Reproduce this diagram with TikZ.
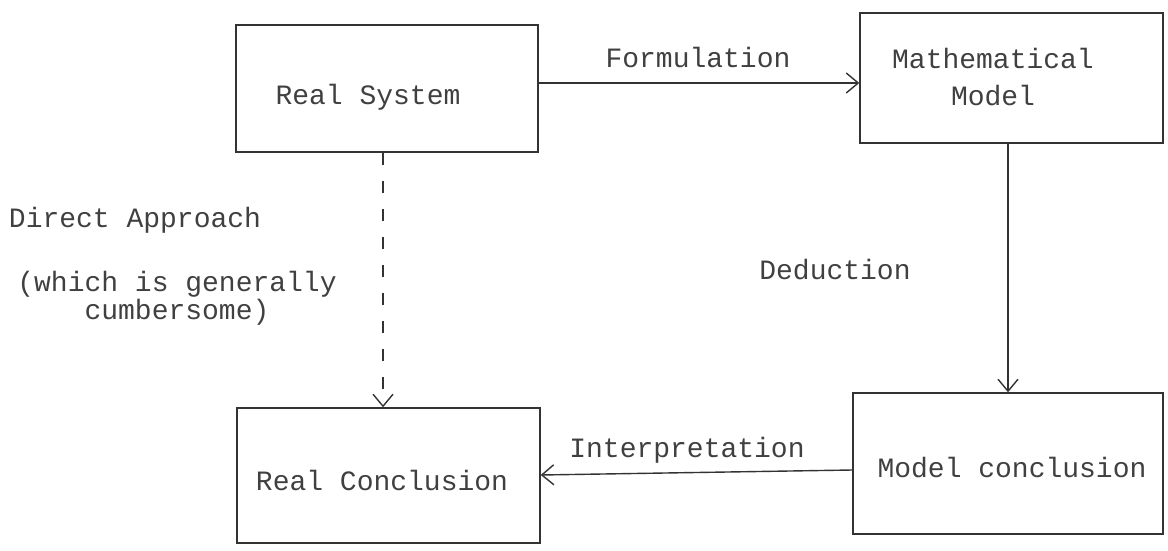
\documentclass[tikz,border=0pt]{standalone}
\usepackage{fontspec}
\setmonofont{Liberation Mono}
\usetikzlibrary{arrows.meta}
\begin{document}
\begin{tikzpicture}[x=0.5pt,y=-0.5pt,
  box/.style={draw=black!80, line width=0.7pt, rectangle, inner sep=0pt},
  lbl/.style={font=\ttfamily\fontsize{14pt}{18.5pt}\selectfont, text=black!75, inner sep=0pt},
  tight/.style={font=\ttfamily\fontsize{14pt}{14pt}\selectfont},
  arr/.style={draw=black!80, line width=0.7pt, -{Straight Barb[length=6pt,width=10pt]}},
  dashline/.style={dash pattern=on 6pt off 8pt}]
\useasboundingbox (0,0) rectangle (1168,551);
% boxes
\node[box, minimum width=151pt, minimum height=63.5pt] (RS) at (387,88.5) {};
\node[box, minimum width=151.5pt, minimum height=65pt] (MM) at (1011.5,78) {};
\node[box, minimum width=151.5pt, minimum height=67.5pt] (RC) at (388.5,475.5) {};
\node[box, minimum width=155pt, minimum height=70.5pt] (MC) at (1008,463.5) {};
% box texts
\node[lbl] (RSt) at (368,97) {Real System};
\node[lbl, align=center] (MMt) at (993,77) {Mathematical\\Model};
\node[lbl] (RCt) at (382,480) {Real Conclusion};
\node[lbl] (MCt) at (1012,468) {Model conclusion};
% connectors
\draw[arr] (RS.east |- 0,83) -- (MM.west |- 0,83);
\draw[arr] (MM.south -| 1008,0) -- (MC.north -| 1008,0);
\draw[arr] (MC.west |- 0,470) -- (RC.east |- 0,475);
\draw[arr, dashline] (RS.south -| 383,0) -- (RC.north -| 383,0);
% connector labels
\node[lbl] (Lf) at (698,57) {Formulation};
\node[lbl] (Ld) at (835,270) {Deduction};
\node[lbl] (Li) at (687,450) {Interpretation};
\node[lbl] (Lda) at (135,220) {Direct Approach};
\node[lbl, tight, align=center] (Ldb) at (177,298) {(which is generally\\cumbersome)};
\end{tikzpicture}
\end{document}
